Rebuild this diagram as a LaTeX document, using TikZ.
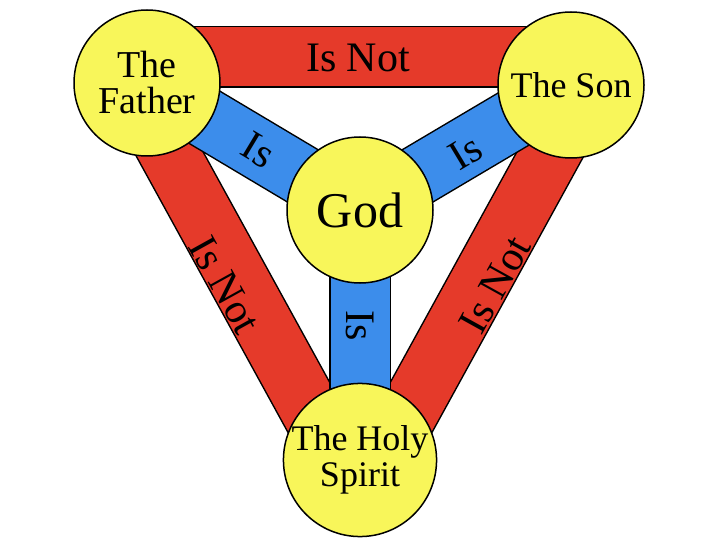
\documentclass[tikz,border=0pt]{standalone}
\usepackage{fontspec}
\setmainfont{Liberation Serif}
\definecolor{barred}{HTML}{E53A2A}
\definecolor{barblue}{HTML}{3C8DEB}
\definecolor{circyel}{HTML}{F8F65A}
\begin{document}
\begin{tikzpicture}[x=1pt,y=-1pt,
  redbar/.style={line width=1.5pt, draw=black, double=barred, double distance=59pt, line cap=butt},
  bluebar/.style={line width=1.5pt, draw=black, double=barblue, double distance=59pt},
  person/.style={circle, draw=black, line width=1.5pt, fill=circyel, minimum size=146pt, inner sep=0pt, align=center, font=\fontsize{38}{36}\selectfont},
  lab/.style={font=\fontsize{42}{42}\selectfont}]
\useasboundingbox (0,0) rectangle (720,540);
\coordinate (tl) at (150,57);
\coordinate (tr) at (570,57);
\coordinate (fl) at (140,100);
\coordinate (hl) at (335,455);
\coordinate (fr) at (580,100);
\coordinate (hr) at (385,455);
\coordinate (fc) at (147,83);
\coordinate (sc) at (571,85);
\coordinate (gc) at (360,210);
\coordinate (hc) at (360,460);
\draw[redbar] (tl) -- (tr);
\draw[redbar] (fl) -- (hl);
\draw[redbar] (fr) -- (hr);
\draw[bluebar] (fc) -- (gc);
\draw[bluebar] (sc) -- (gc);
\draw[bluebar] (gc) -- (hc);
\node[lab] (n1) at (358,58) {Is Not};
\node[lab, rotate=-61] (n2) at (225,285) {Is Not};
\node[lab, rotate=61] (n3) at (495,285) {Is Not};
\node[lab, rotate=-31] (i1) at (258,150) {Is};
\node[lab, rotate=31] (i2) at (466,152) {Is};
\node[lab, rotate=-90] (i3) at (360,326) {Is};
\node[person] (F) at (fc) {The\\Father};
\node[person, font=\fontsize{36}{36}\selectfont] (S) at (sc) {The Son};
\node[person, font=\fontsize{50}{50}\selectfont] (G) at (gc) {God};
\node[person, font=\fontsize{36}{36}\selectfont] (H) at (hc) {The Holy\\Spirit};
\end{tikzpicture}
\end{document}
